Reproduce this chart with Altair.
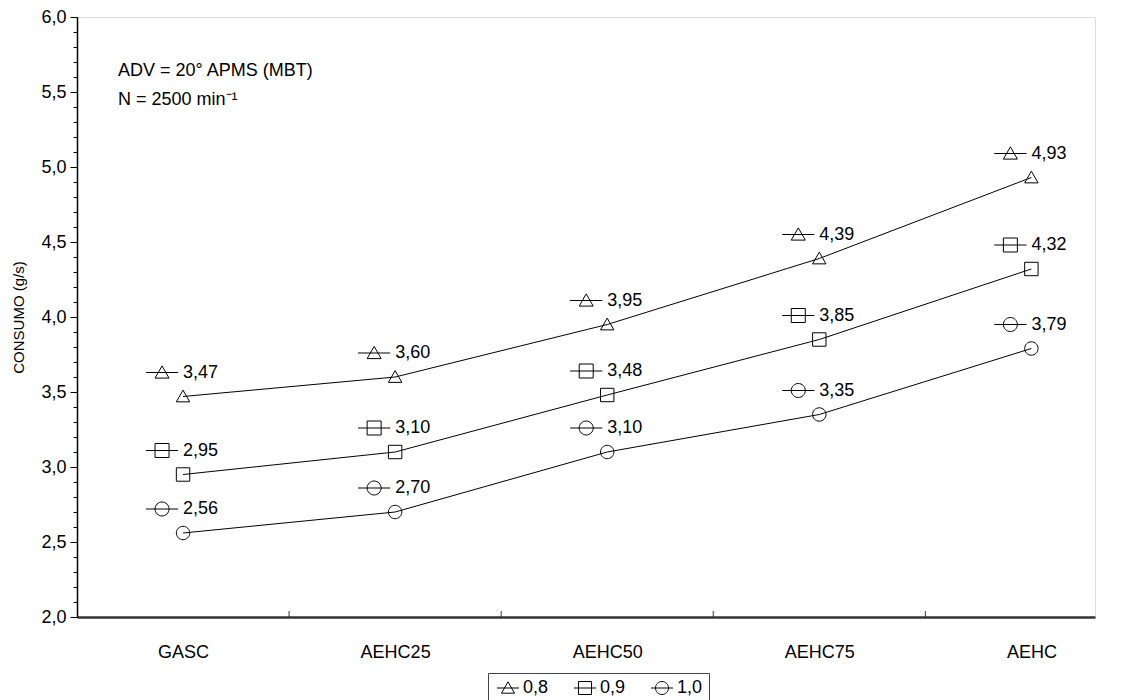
import json
import altair as alt
import pandas as pd

# ---------------- data ----------------
categories = ["GASC", "AEHC25", "AEHC50", "AEHC75", "AEHC"]
series_names = ["0,8", "0,9", "1,0"]
consumo_08 = [3.47, 3.60, 3.95, 4.39, 4.93]
consumo_09 = [2.95, 3.10, 3.48, 3.85, 4.32]
consumo_10 = [2.56, 2.70, 3.10, 3.35, 3.79]
y_tick_values = [round(2.0 + 0.1 * i, 1) for i in range(41)]
x_separators = [0.5, 1.5, 2.5, 3.5]
annotation_lines = ["ADV = 20° APMS (MBT)", "N = 2500 min⁻¹"]

rows = []
for name, vals in zip(series_names, [consumo_08, consumo_09, consumo_10]):
    for i, (cat, v) in enumerate(zip(categories, vals)):
        rows.append({"serie": name, "idx": i, "cat": cat, "consumo": v,
                     "label": f"{v:.2f}".replace(".", ",")})
df = pd.DataFrame(rows)
sep_df = pd.DataFrame({"sep": x_separators})

FONT = "Liberation Sans"
FS = 18

point_paths = [
    "M0,-0.95L1,0.8H-1Z",
    "M-1,-1H1V1H-1Z",
    "M1,0A1,1,0,1,1,-1,0A1,1,0,1,1,1,0Z",
]
label_paths = [
    "M-2.3,0H2.3M0,-0.95L1,0.8H-1Z",
    "M-2.3,0H2.3M-1,-1H1V1H-1Z",
    "M-2.3,0H2.3M1,0A1,1,0,1,1,-1,0A1,1,0,1,1,1,0Z",
]
legend_paths = [
    "M-1.7,0H1.7M0,-0.95L1,0.8H-1Z",
    "M-1.7,0H1.7M-1,-1H1V1H-1Z",
    "M-1.7,0H1.7M1,0A1,1,0,1,1,-1,0A1,1,0,1,1,1,0Z",
]

cat_expr = json.dumps(categories)
x_scale = alt.Scale(domain=[-0.5, 4.3], nice=False, zero=False)
y_scale = alt.Scale(domain=[2.0, 6.0], nice=False, zero=False)

major_test = "abs(datum.value*2 - round(datum.value*2)) < 0.001"

x_enc = alt.X(
    "idx:Q", scale=x_scale,
    axis=alt.Axis(values=[0, 1, 2, 3, 4], labelExpr=f"{cat_expr}[round(datum.value)]",
                  ticks=False, grid=False, title=None, domainColor="#333333",
                  domainWidth=2.5, labelFont=FONT, labelFontSize=FS, labelColor="black",
                  labelPadding=26),
)
y_enc = alt.Y(
    "consumo:Q", scale=y_scale,
    axis=alt.Axis(values=y_tick_values,
                  labelExpr=f"{major_test} ? replace(format(datum.value, '.1f'), '.', ',') : ''",
                  tickSize={"condition": {"test": major_test, "value": 7}, "value": 4},
                  tickColor="black", domainColor="black", domainWidth=1.5,
                  grid=False, labelFont=FONT, labelFontSize=FS, labelColor="black",
                  labelPadding=4, title="CONSUMO (g/s)", titleFont=FONT,
                  titleFontSize=15, titleFontWeight="normal", titleColor="black",
                  titleX=-59, titleY=300, titleBaseline="middle"),
)

base = alt.Chart(df)

lines = base.mark_line(color="black", strokeWidth=1).encode(x=x_enc, y=y_enc, detail="serie:N")

points = base.mark_point(filled=False, color="black", size=180, strokeWidth=1, opacity=1).encode(
    x=x_enc, y=y_enc,
    shape=alt.Shape("serie:N", scale=alt.Scale(domain=series_names, range=point_paths), legend=None),
)

label_marks = base.mark_point(filled=False, color="black", size=196, strokeWidth=1, opacity=1,
                              xOffset=-21, yOffset=-24).encode(
    x=x_enc, y=y_enc,
    shape=alt.Shape("serie:N", scale=alt.Scale(domain=series_names, range=label_paths), legend=None),
)

# legend only (no data drawn): shows symbols with shorter lines like the reference key
legend_layer = base.transform_filter("false").mark_point(
    filled=False, color="black", size=169, strokeWidth=1, opacity=1).encode(
    x=x_enc, y=y_enc,
    shape=alt.Shape("serie:N", scale=alt.Scale(domain=series_names, range=legend_paths),
                    legend=alt.Legend(title=None, orient="none", legendX=411, legendY=656,
                                      direction="horizontal", columns=3,
                                      strokeColor="#444444", padding=6,
                                      symbolSize=169, symbolStrokeColor="black",
                                      symbolFillColor="transparent", symbolStrokeWidth=1,
                                      symbolOpacity=1,
                                      symbolOffset=5, labelOffset=6, columnPadding=22,
                                      labelFont=FONT, labelFontSize=FS, labelColor="black")),
)

label_text = base.mark_text(align="left", baseline="middle", dx=0, dy=-24, font=FONT,
                            fontSize=FS, color="black").encode(x=x_enc, y=y_enc, text="label:N")

seps = alt.Chart(sep_df).mark_rule(color="#333333", strokeWidth=1).encode(
    x=alt.X("sep:Q", scale=x_scale), y=alt.value(600), y2=alt.value(594))

ann1 = alt.Chart(pd.DataFrame({"t": [annotation_lines[0]]})).mark_text(
    align="left", baseline="middle", font=FONT, fontSize=FS, color="black").encode(
    x=alt.value(41), y=alt.value(54), text="t:N")
ann2 = alt.Chart(pd.DataFrame({"t": [annotation_lines[1]]})).mark_text(
    align="left", baseline="middle", font=FONT, fontSize=FS, color="black").encode(
    x=alt.value(41), y=alt.value(83), text="t:N")

chart = alt.layer(lines, points, label_marks, legend_layer, label_text, seps, ann1, ann2).resolve_scale(
    shape="independent"
).properties(
    width=1018, height=600,
    padding={"left": 69, "top": 9, "right": 23, "bottom": 83},
    autosize=alt.AutoSizeParams(type="none"),
).configure_view(stroke="black", strokeWidth=1).configure(background="white")

chart.save("out.html", embed_options={"renderer": "svg", "actions": False})
